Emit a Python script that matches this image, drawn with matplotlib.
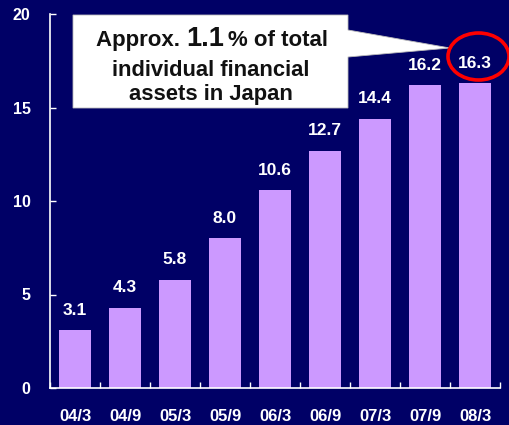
import matplotlib
matplotlib.use("Agg")
import matplotlib.pyplot as plt
from matplotlib.patches import Polygon, Ellipse
from matplotlib.ticker import FixedLocator, NullFormatter

plt.rcParams['font.family'] = ['Liberation Sans', 'DejaVu Sans']
plt.rcParams['font.weight'] = 'bold'

periods = ["04/3", "04/9", "05/3", "05/9", "06/3", "06/9", "07/3", "07/9", "08/3"]
balance = [3.1, 4.3, 5.8, 8.0, 10.6, 12.7, 14.4, 16.2, 16.3]
y_ticks = [0, 5, 10, 15, 20]

BG = "#000066"
BAR = "#CC99FF"
W, H = 509, 425

fig = plt.figure(figsize=(W / 100, H / 100), dpi=100, facecolor=BG)
ax = fig.add_axes([50 / W, 37 / H, 450 / W, 374 / H])
ax.set_facecolor(BG)

x = list(range(len(periods)))
ax.bar(x, balance, width=0.64, color=BAR, zorder=2)

for xi, v in zip(x, balance):
    ax.annotate(f"{v:.1f}", (xi, v), xytext=(0, 11), textcoords="offset points",
                ha="center", va="baseline", color="white", fontsize=12.5,
                fontweight="bold")

ax.set_xlim(-0.5, len(periods) - 0.5)
ax.set_ylim(0, 20)
ax.set_yticks(y_ticks)
ax.set_xticks(x)
ax.set_xticklabels(periods)
ax.xaxis.set_minor_locator(FixedLocator([i - 0.5 for i in range(len(periods) + 1)]))
ax.xaxis.set_minor_formatter(NullFormatter())
ax.tick_params(axis="x", which="major", length=0, pad=15, labelsize=12,
               labelcolor="white")
ax.tick_params(axis="x", which="minor", direction="in", length=4, color="white",
               width=1)
ax.tick_params(axis="y", direction="in", length=4, color="white", width=1,
               pad=14, labelsize=11.5, labelcolor="white")
for lbl in ax.get_xticklabels() + ax.get_yticklabels():
    lbl.set_fontweight("bold")

for side in ("top", "right"):
    ax.spines[side].set_visible(False)
for side in ("left", "bottom"):
    ax.spines[side].set_color("white")
    ax.spines[side].set_linewidth(1.2)


def px(xp, yp):
    """Figure-fraction coordinates from pixel position measured from top-left."""
    return (xp / W, 1 - yp / H)


# callout box with pointer
callout = Polygon([px(73, 108), px(73, 15), px(348, 15), px(348, 30),
                   px(450, 48), px(348, 57), px(348, 108)],
                  closed=True, transform=fig.transFigure, facecolor="white",
                  edgecolor="#bbbbbb", linewidth=0.6, zorder=5)
fig.patches.append(callout)

renderer = fig.canvas.get_renderer()
txt_kw = dict(transform=fig.transFigure, color="#111111", fontweight="bold",
              va="baseline", zorder=6)
parts = [("Approx. ", 16), ("1.1", 19.5), ("% of total", 16)]
objs = []
for s, fs in parts:
    objs.append(fig.text(0, 0, s, fontsize=fs, **txt_kw))
widths = [o.get_window_extent(renderer).width for o in objs]
gap = 3
total = sum(widths) + gap
cx = 212
start = cx - total / 2
for i, o in enumerate(objs):
    o.set_position(px(start, 46))
    start += widths[i] + (gap if i == 1 else 0)

fig.text(*px(210.5, 76), "individual financial", fontsize=15.8, ha="center", **txt_kw)
fig.text(*px(210.5, 100), "assets in Japan", fontsize=15.8, ha="center", **txt_kw)

# highlight ring around the latest value
ring = Ellipse(px(478.5, 56.5), 61 / W, 47 / H, transform=fig.transFigure,
               fill=False, edgecolor="#FF0000", linewidth=2.6, zorder=7)
fig.patches.append(ring)

fig.savefig("out.png", dpi=100, facecolor=BG)
